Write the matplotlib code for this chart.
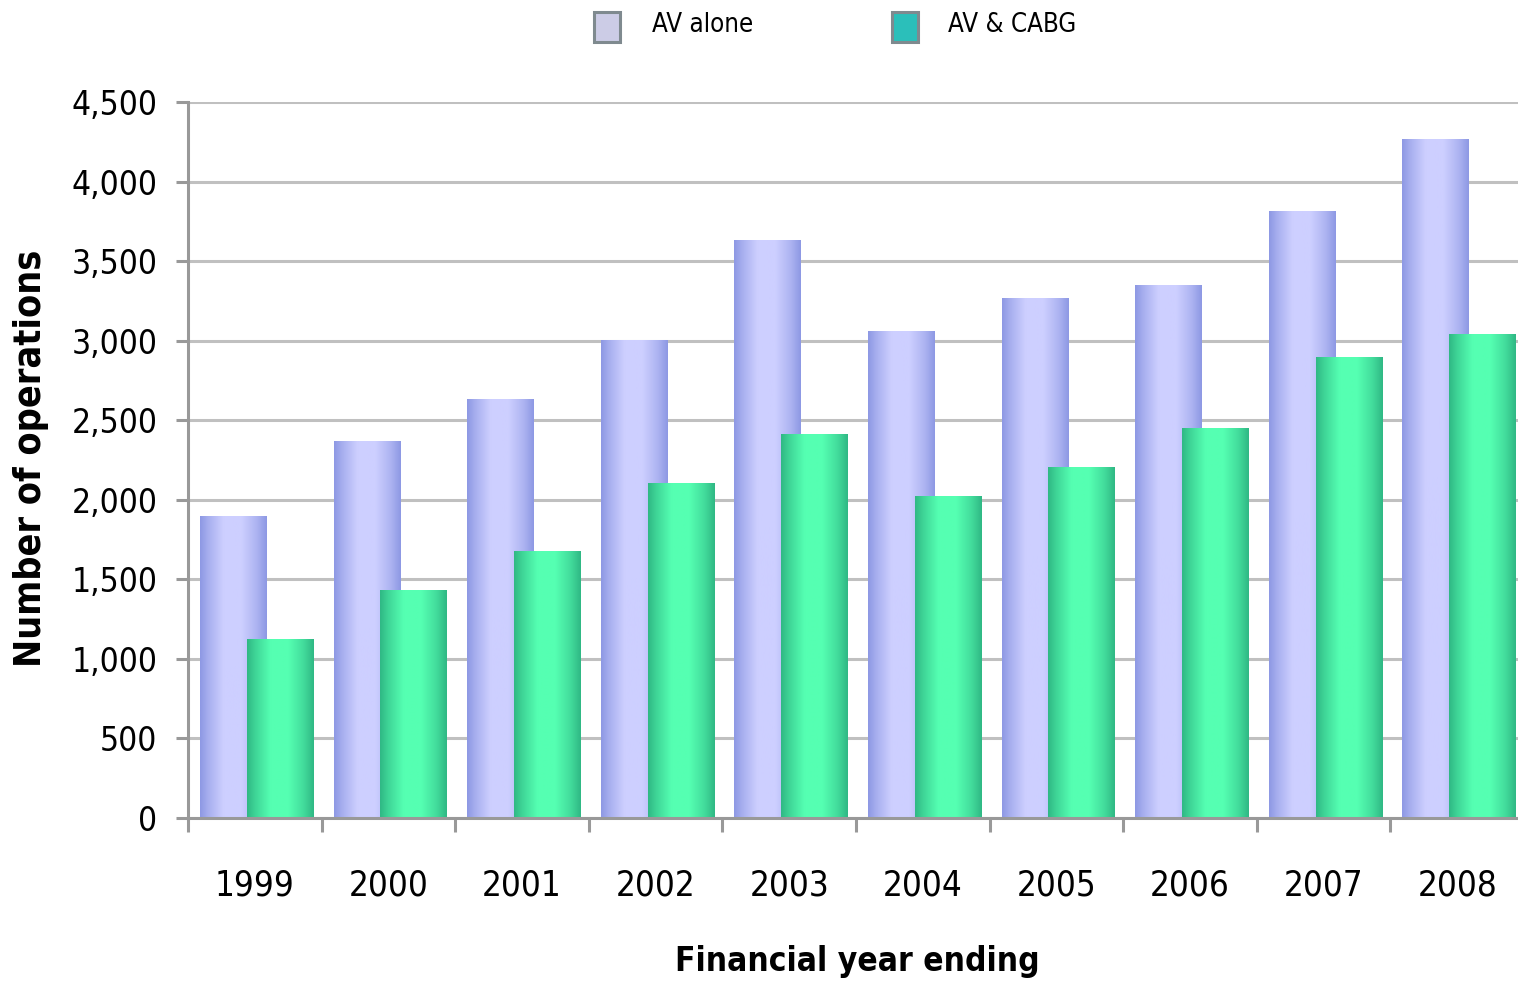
import numpy as np
import matplotlib
matplotlib.use("Agg")
import matplotlib.pyplot as plt
from matplotlib.patches import Rectangle
from matplotlib.colors import to_rgb
from matplotlib.ticker import FuncFormatter

plt.rcParams['font.family'] = ['DejaVu Sans']
plt.rcParams['font.stretch'] = 'condensed'

years = ['1999', '2000', '2001', '2002', '2003', '2004', '2005', '2006', '2007', '2008']
av_alone = [1900, 2370, 2635, 3005, 3635, 3060, 3270, 3350, 3815, 4270]
av_cabg = [1125, 1430, 1675, 2105, 2415, 2025, 2205, 2450, 2900, 3045]

series_names = ['AV alone', 'AV & CABG']
legend_colors = ['#cccce6', '#2bbfba']
bar_dark = ['#8e99e4', '#30b985']
bar_light = ['#cdcfff', '#55ffb2']

W, H = 1518, 981
fig = plt.figure(figsize=(W / 100, H / 100), dpi=100)
ax = fig.add_axes([188 / W, (H - 818) / H, 1336 / W, 716 / H])

ncat = len(years)
ax.set_xlim(0, ncat)
ax.set_ylim(0, 4500)

# horizontal shading profile that gives the bars a rounded look
u = np.linspace(0, 1, 64)
prof = np.interp(u, [0, 0.12, 0.35, 0.62, 0.85, 1.0], [0, 0.4, 1.0, 1.0, 0.5, 0])


def gradient_image(dark, light):
    d = np.array(to_rgb(dark))
    l = np.array(to_rgb(light))
    row = d[None, :] + (l - d)[None, :] * prof[:, None]
    return row[None, :, :]


bw = 0.5
offsets = [0.09 + bw / 2, 0.44 + bw / 2]
x = np.arange(ncat)
for k, vals in enumerate([av_alone, av_cabg]):
    bars = ax.bar(x + offsets[k], vals, width=bw, color=bar_light[k],
                  linewidth=0, zorder=3 + k)
    img = gradient_image(bar_dark[k], bar_light[k])
    for b in bars:
        x0, y0 = b.get_x(), b.get_y()
        im = ax.imshow(img, extent=(x0, x0 + b.get_width(), y0, y0 + b.get_height()),
                       aspect='auto', zorder=3 + k, interpolation='bilinear')
        im.set_clip_path(b)

ax.set_xlim(0, ncat)
ax.set_ylim(0, 4500)

# axes styling
ax.set_yticks(np.arange(0, 4501, 500))
ax.yaxis.set_major_formatter(FuncFormatter(lambda v, p: f'{int(v):,}'))
ax.grid(axis='y', color='#c0c0c0', linewidth=2.2, zorder=0)
ax.set_axisbelow(True)
for s in ['top', 'right']:
    ax.spines[s].set_visible(False)
for s in ['left', 'bottom']:
    ax.spines[s].set_color('#999999')
    ax.spines[s].set_linewidth(2.2)
ax.spines['bottom'].set_zorder(10)

ax.set_xticks(np.arange(0, ncat + 1))
ax.set_xticklabels([])
ax.set_xticks(x + 0.5, minor=True)
ax.set_xticklabels(years, minor=True)
ax.tick_params(axis='x', which='major', length=10, width=2.2, color='#999999', direction='out')
ax.tick_params(axis='x', which='minor', length=0, pad=36, labelsize=25)
ax.tick_params(axis='y', length=9, width=2.2, color='#999999', direction='out',
               labelsize=24, pad=13)

ax.set_xlabel('Financial year ending', fontsize=24, fontweight='bold', va='center')
ax.set_ylabel('Number of operations', fontsize=27, fontweight='bold', va='center')
ax.xaxis.set_label_coords((857 - 188) / 1336, (818 - 962) / 716)
ax.yaxis.set_label_coords((31 - 188) / 1336, (818 - 458) / 716)

# legend across the top
legend_items = [(594, 652), (892, 948)]
for (px, tx), name, col in zip(legend_items, series_names, legend_colors):
    fig.patches.append(Rectangle((px / W, (H - 42) / H), 26 / W, 30 / H,
                                 transform=fig.transFigure, facecolor=col,
                                 edgecolor='#7f8a8f', linewidth=2.2))
    fig.text(tx / W, (H - 25) / H, name, fontsize=18.5, va='center', ha='left')

fig.savefig('out.png', dpi=100)
